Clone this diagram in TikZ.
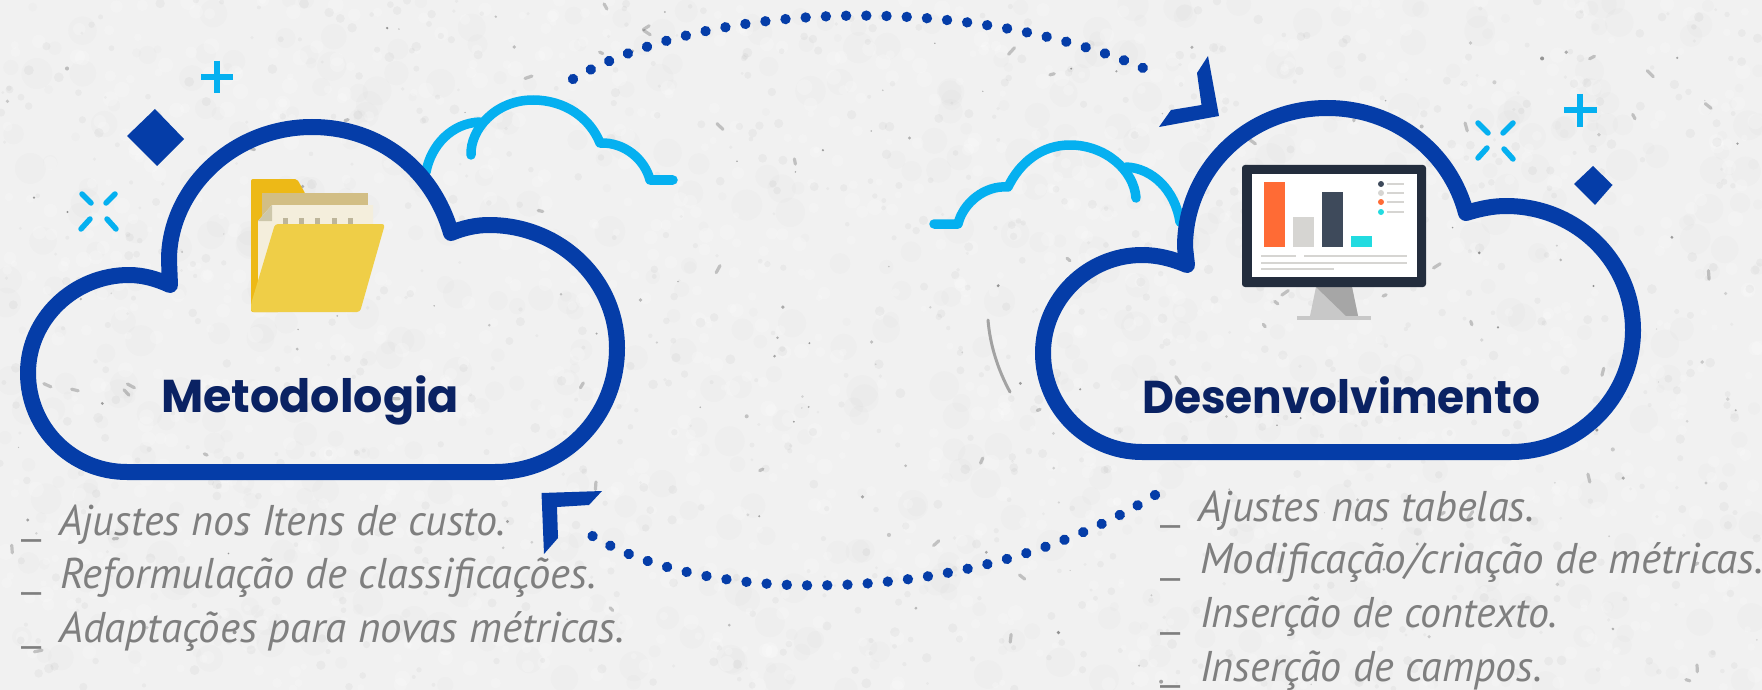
\documentclass[tikz,border=0pt]{standalone}
\usepackage{fontspec}
\setmainfont{PT Sans}
\newfontfamily\headfont{Poppins}
\usetikzlibrary{calc,decorations.markings}
\definecolor{paper}{HTML}{F1F1F1}
\definecolor{cloudblue}{HTML}{053DA8}
\definecolor{skyblue}{HTML}{05B0F0}
\definecolor{headnavy}{HTML}{0A2263}
\definecolor{listgray}{HTML}{7F7F7F}
\definecolor{foldA}{HTML}{EDB917}
\definecolor{foldB}{HTML}{D2BE85}
\definecolor{foldC}{HTML}{F4EEDC}
\definecolor{foldD}{HTML}{CDC7AA}
\definecolor{foldE}{HTML}{BDB59A}
\definecolor{foldF}{HTML}{EFCE47}
\definecolor{monframe}{HTML}{232D3D}
\definecolor{monorange}{HTML}{FF6B35}
\definecolor{mongrey}{HTML}{D6D5D2}
\definecolor{mondark}{HTML}{3E4A5B}
\definecolor{moncyan}{HTML}{22DBE0}
\definecolor{standA}{HTML}{C8C8C8}
\definecolor{standB}{HTML}{A6A6A6}
\tikzset{
  bigcloud/.style={draw=cloudblue,line width=16pt,line join=round},
  smallcloud/.style={draw=skyblue,line width=9.5pt,line cap=round,line join=round},
  sparkle/.style={draw=skyblue,line width=5.5pt,line cap=round},
  plusbar/.style={draw=skyblue,line width=5.5pt},
  gem/.style={fill=cloudblue},
  chevron/.style={fill=cloudblue},
  dotline/.style={decorate,decoration={markings,mark=between positions 0 and 1 step #1 with {\fill[cloudblue] (0,0) circle (5.2);}}},
  headtext/.style={anchor=base west,inner sep=0pt,text=headnavy,font=\headfont\bfseries\fontsize{46}{46}\selectfont},
  listtext/.style={anchor=base west,inner sep=0pt,text=listgray,font=\itshape\fontsize{43}{43}\selectfont},
  listmark/.style={anchor=base west,inner sep=0pt,text=listgray,font=\fontsize{38}{38}\selectfont},
  rule/.style={draw=mongrey,line width=1.5pt},
}
\newcommand{\markbar}{\scalebox{1.3}[1]{\_}}
\begin{document}
\begin{tikzpicture}[x=1pt,y=-1pt]
\useasboundingbox (0,0) rectangle (1762,690);
\fill[paper] (0,0) rectangle (1762,690);
% paper texture
\pgfmathsetseed{4242}
\foreach \i in {1,...,700}{
  \pgfmathsetmacro{\px}{rnd*1762}
  \pgfmathsetmacro{\py}{rnd*690}
  \pgfmathsetmacro{\pr}{4+rnd*12}
  \fill[black,opacity=.012] (\px,\py) circle (\pr);
}
\foreach \i in {1,...,1200}{
  \pgfmathsetmacro{\px}{rnd*1762}
  \pgfmathsetmacro{\py}{rnd*690}
  \pgfmathsetmacro{\pr}{3+rnd*5}
  \fill[white,opacity=.2] (\px,\py) circle (\pr);
}
\foreach \i in {1,...,900}{
  \pgfmathsetmacro{\px}{rnd*1762}
  \pgfmathsetmacro{\py}{rnd*690}
  \pgfmathsetmacro{\pr}{1.5+rnd*3.5}
  \fill[black,opacity=.03] (\px,\py) circle (\pr);
}
\foreach \i in {1,...,150}{
  \pgfmathsetmacro{\px}{rnd*1762}
  \pgfmathsetmacro{\py}{rnd*690}
  \pgfmathsetmacro{\pr}{.6+rnd*1.5}
  \pgfmathsetmacro{\po}{.1+rnd*.3}
  \fill[black,opacity=\po] (\px,\py) circle (\pr);
}
\foreach \i in {1,...,55}{
  \pgfmathsetmacro{\px}{rnd*1762}
  \pgfmathsetmacro{\py}{rnd*690}
  \pgfmathsetmacro{\pa}{rnd*180}
  \pgfmathsetmacro{\pl}{1.5+rnd*3}
  \draw[black,opacity=.2,line width=3.2pt,line cap=round] ($(\px,\py)+(\pa:\pl)$) -- ($(\px,\py)-(\pa:\pl)$);
}
\draw[black,opacity=.32,line width=3pt,line cap=round] (988,320) .. controls (990,345) and (998,370) .. (1010,392);

% small clouds (behind)
\draw[smallcloud] (426,172) .. controls (431,145) and (452,123) .. (480,122);
\draw[smallcloud] (673,180) -- (650,180) .. controls (645,160) and (625,142) .. (600,143) .. controls (590,118) and (565,100) .. (533,100) .. controls (495,100) and (470,130) .. (471,155);
\draw[smallcloud] (1180,222) .. controls (1175,190) and (1152,168) .. (1126,167);
\draw[smallcloud] (934,224) -- (958,224) .. controls (963,203) and (985,185) .. (1008,187) .. controls (1020,162) and (1042,145) .. (1070,145) .. controls (1105,145) and (1134,170) .. (1136,198);

% big clouds
\draw[bigcloud] (170,285) .. controls (157,279) and (143,275) .. (129,275) .. controls (74,275) and (28,319) .. (28,373) .. controls (28,428) and (72,472) .. (127,472) -- (495,472) .. controls (562,472) and (617,418) .. (617,348) .. controls (617,280) and (560,225) .. (489,225) .. controls (476,225) and (463,228) .. (451,233) .. controls (433,170) and (380,127) .. (312,127) .. controls (232,127) and (169,190) .. (169,260) -- cycle;
\draw[bigcloud] (1187,265) .. controls (1173,259) and (1158,255) .. (1142,255) .. controls (1088,255) and (1043,299) .. (1043,353) .. controls (1043,408) and (1088,452) .. (1142,452) -- (1511,452) .. controls (1578,452) and (1633,398) .. (1633,330) .. controls (1633,262) and (1577,206) .. (1506,206) .. controls (1492,206) and (1479,209) .. (1466,213) .. controls (1450,152) and (1395,108) .. (1327,108) .. controls (1248,108) and (1185,170) .. (1185,247) -- cycle;

% gems, plus signs, sparkles
\fill[gem] (155,109) -- (184,139) -- (157,166) -- (127,136) -- cycle;
\fill[gem] (1593,166) -- (1612.5,185) -- (1595,205) -- (1574,184) -- cycle;
\draw[plusbar] (201,77) -- (233,77) (217,61) -- (217,93);
\draw[plusbar] (1564,110) -- (1597,110) (1580,94) -- (1580,127);
\draw[sparkle] (82,194) -- (91,203) (115,194) -- (106,203) (81,229) -- (90,219) (116,229) -- (107,219);
\draw[sparkle] (1478,123) -- (1488,133) (1513,123) -- (1503,133) (1478,158) -- (1487,148) (1513,159) -- (1504,149);

% dotted connectors with chevron heads
\coordinate (topstart) at (573,79);
\coordinate (topend) at (1161,76);
\coordinate (botstart) at (1155,495);
\coordinate (botend) at (576,525);
\path[dotline=0.03333] (topstart) .. controls (720,-5) and (990,-5) .. (topend);
\path[dotline=0.03333] (botstart) .. controls (970,610) and (690,610) .. (botend);
\fill[chevron] (1208,56) -- (1219,116) -- (1159,127) -- (1171,110) -- (1201.5,105) -- (1197,73) -- cycle;
\fill[chevron] (541.5,493) -- (602,491) -- (589,505) -- (557,507) -- (558,538) -- (544,554) -- cycle;

% folder icon
\fill[foldA,rounded corners=2pt] (251,312) -- (251,179) -- (297,179) -- (305,193) -- (320,240) -- (280,312) -- cycle;
\fill[foldB] (262,193) rectangle (368,227);
\fill[foldC] (272,205) -- (373,205) -- (373,240) -- (258,290) -- (258,221) -- cycle;
\fill[foldD] (272,205) -- (272,221) -- (258,221) -- cycle;
\foreach \tx in {283,299,315,332,348}{\fill[foldE] (\tx,218) rectangle (\tx+5,226);}
\fill[foldF,rounded corners=3pt] (275,224) -- (385,224) -- (360,312) -- (251,312) -- (251,304) -- cycle;

% monitor icon
\fill[standA] (1316,287) -- (1352,287) -- (1358,316) -- (1310,316) -- cycle;
\fill[standB] (1316,287) -- (1352,287) -- (1358,316) -- (1346,316) -- cycle;
\fill[standA] (1297,316) rectangle (1371,320);
\fill[monframe,rounded corners=3pt] (1242,165) rectangle (1426,287);
\fill[white] (1252,174) rectangle (1417,277);
\fill[monorange] (1264,182) rectangle (1285,247);
\fill[mongrey] (1293,217) rectangle (1314,247);
\fill[mondark] (1322,192) rectangle (1343,247);
\fill[moncyan] (1351,236) rectangle (1372,247);
\fill[mondark] (1381,184) circle (3);
\fill[mongrey] (1381,193) circle (3);
\fill[monorange] (1381,202) circle (3);
\fill[moncyan] (1381,212) circle (3);
\draw[rule] (1387,184) -- (1404,184) (1387,193) -- (1404,193) (1387,202) -- (1404,202) (1387,212) -- (1404,212);
\draw[rule] (1261,256) -- (1296,256) (1304,256) -- (1407,256) (1261,263) -- (1407,263) (1261,269) -- (1334,269);

% headings
\node[headtext] (metodologia) at (161,412) {Metodologia};
\node[headtext] (desenvolvimento) at (1142,413) {\scalebox{.955}[1]{Desenvolvimento}};

% left list
\node[listmark] (lm1) at (21,534) {\markbar};
\node[listmark] (lm2) at (21,587) {\markbar};
\node[listmark] (lm3) at (21,641) {\markbar};
\node[listtext] (lt1) at (59,535) {\scalebox{.975}[1]{Ajustes nos Itens de custo.}};
\node[listtext] (lt2) at (60,588) {\scalebox{.99}[1]{Reformulação de classificações.}};
\node[listtext] (lt3) at (59,642) {Adaptações para novas métricas.};

% right list
\node[listmark] (rm1) at (1160,520) {\markbar};
\node[listmark] (rm2) at (1160,573) {\markbar};
\node[listmark] (rm3) at (1160,627) {\markbar};
\node[listmark] (rm4) at (1160,680) {\markbar};
\node[listtext] (rt1) at (1198,521) {\scalebox{.98}[1]{Ajustes nas tabelas.}};
\node[listtext] (rt2) at (1200,573) {Modificação/criação de métricas.};
\node[listtext] (rt3) at (1200,627) {\scalebox{.975}[1]{Inserção de contexto.}};
\node[listtext] (rt4) at (1200,681) {\scalebox{.98}[1]{Inserção de campos.}};
\end{tikzpicture}
\end{document}
